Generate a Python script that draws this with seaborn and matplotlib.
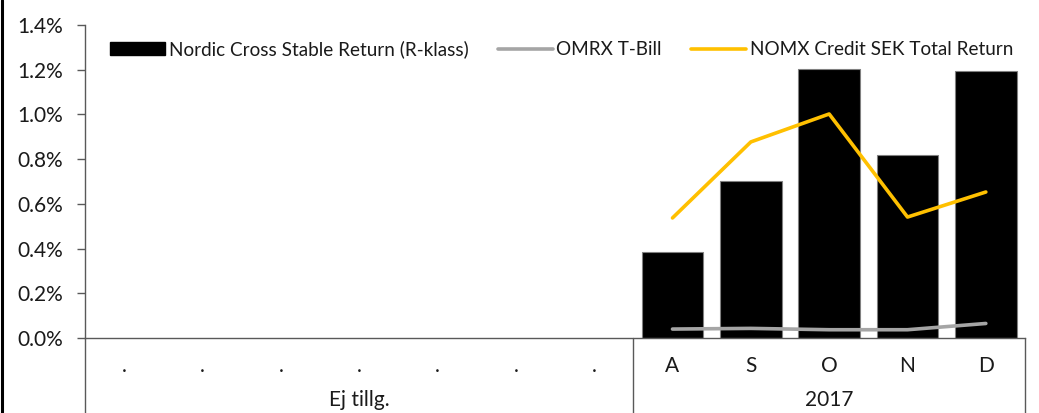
#!/usr/bin/env python3
"""Monthly returns: Nordic Cross Stable Return vs OMRX T-Bill and NOMX Credit SEK."""

import numpy as np
import pandas as pd
import matplotlib.pyplot as plt
import matplotlib.transforms as mtransforms
from matplotlib.lines import Line2D
from matplotlib.patches import Patch
from matplotlib.ticker import PercentFormatter
import seaborn as sns

# data (monthly returns, %)
month_labels = [".", ".", ".", ".", ".", ".", ".", "A", "S", "O", "N", "D"]
group_labels = ["Ej tillg."] * 7 + ["2017"] * 5
fund_return = [np.nan] * 7 + [0.385, 0.702, 1.203, 0.820, 1.195]
tbill_return = [np.nan] * 7 + [0.040, 0.043, 0.037, 0.037, 0.065]
credit_return = [np.nan] * 7 + [0.537, 0.877, 1.002, 0.541, 0.653]

series_names = ["Nordic Cross Stable Return (R-klass)", "OMRX T-Bill", "NOMX Credit SEK Total Return"]
colors = ["#000000", "#A5A5A5", "#FFC000"]

df = pd.DataFrame({
    "slot": np.arange(len(month_labels)),
    "fund": fund_return,
    "tbill": tbill_return,
    "credit": credit_return,
})

sns.set_theme(style="white")
plt.rcParams["font.family"] = ["Lato", "DejaVu Sans"]
text_color = "#1a1a1a"
axis_color = "#595959"
tick_size = 15

fig = plt.figure(figsize=(10.39, 4.13), dpi=100)
ax = fig.add_axes([85 / 1039, 75 / 413, 940 / 1039, 313 / 413])

sns.barplot(data=df, x="slot", y="fund", color=colors[0], width=0.79,
            edgecolor="#808080", linewidth=0.8, saturation=1, ax=ax)
for col, c in (("tbill", colors[1]), ("credit", colors[2])):
    sns.pointplot(data=df, x="slot", y=col, color=c, markers="", linewidth=2.6,
                  errorbar=None, ax=ax)

ax.set_xlim(-0.5, len(month_labels) - 0.5)
ax.set_ylim(0, 1.4)
ax.set_yticks(np.arange(0, 1.41, 0.2))
ax.yaxis.set_major_formatter(PercentFormatter(decimals=1))
ax.set_xlabel("")
ax.set_ylabel("")

ax.set_xticks(range(len(month_labels)))
ax.set_xticklabels(month_labels)
ax.tick_params(axis="x", length=0, pad=13, labelsize=tick_size, colors=text_color)
ax.tick_params(axis="y", direction="out", length=6, width=1, color=axis_color,
               pad=10, labelsize=tick_size, labelcolor=text_color, left=True)

sns.despine(ax=ax, top=True, right=True)
for side in ("left", "bottom"):
    ax.spines[side].set_color(axis_color)
    ax.spines[side].set_linewidth(1)

# multi-level category axis
trans = mtransforms.blended_transform_factory(ax.transData, ax.transAxes)
bounds = [-0.5]
for i in range(1, len(group_labels)):
    if group_labels[i] != group_labels[i - 1]:
        bounds.append(i - 0.5)
bounds.append(len(group_labels) - 0.5)
for b in bounds:
    ax.plot([b, b], [0, -0.245], transform=trans, color=axis_color, lw=1, clip_on=False)
for lo, hi in zip(bounds[:-1], bounds[1:]):
    name = group_labels[int(lo + 0.5)]
    ax.text((lo + hi) / 2, -0.198, name, transform=trans, ha="center", va="center",
            fontsize=tick_size, color=text_color)

handles = [
    Patch(facecolor=colors[0], edgecolor=colors[0]),
    Line2D([0], [0], color=colors[1], lw=2.6),
    Line2D([0], [0], color=colors[2], lw=2.6),
]
ax.legend(handles, series_names, loc="upper center", bbox_to_anchor=(0.507, 1.005),
          ncol=3, frameon=False, fontsize=13.6, handlelength=2.9, handleheight=0.65,
          handletextpad=0.2, columnspacing=1.55, labelcolor=text_color)

fig.add_artist(Line2D([0.0015, 0.0015], [0, 1], color="black", lw=2.2, transform=fig.transFigure))

fig.savefig("out.png", dpi=100)
